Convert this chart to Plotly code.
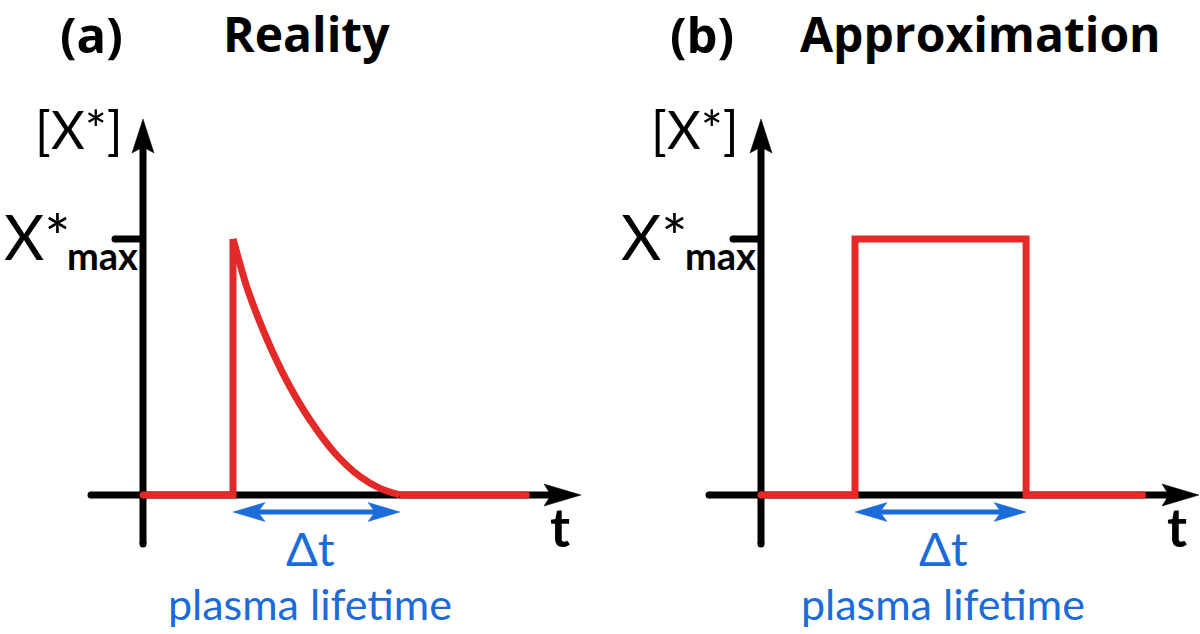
import plotly.graph_objects as go

# ---------------- data ----------------
# (a) Reality: [X*] relative to X*max vs time (arbitrary units)
t_pre_a = [0.0, 1.0, 1.0]
x_pre_a = [0.0, 0.0, 1.0]
t_decay_a = [1.0, 1.152, 1.289, 1.448, 1.633, 1.856, 2.133, 2.411, 2.633, 2.856]
x_decay_a = [1.0, 0.814, 0.684, 0.553, 0.423, 0.293, 0.163, 0.072, 0.026, 0.0]
t_post_a = [2.856, 4.26]
x_post_a = [0.0, 0.0]

# (b) Approximation: square pulse
t_b = [0.0, 1.0, 1.0, 2.82, 2.82, 4.06]
x_b = [0.0, 0.0, 1.0, 1.0, 0.0, 0.0]

xmax_level = 1.0
lifetime_a = [1.0, 2.856]
lifetime_b = [1.0, 2.82]

panel_tags = ["(a)", "(b)"]
panel_titles = ["Reality", "Approximation"]
y_label = "[X*]"
ytick_main = "X*"
ytick_sub = "max"
x_label = "t"
dt_label = "Δt"
dt_caption = "plasma lifetime"

# ---------------- style / geometry ----------------
W, H = 1200, 634
RED = "#e32a28"
BLUE = "#1b6bd9"
BLACK = "#000000"
FONT = "Lato"
TITLE_FONT = "Open Sans"

panels = [
    dict(ox=143, oy=495, sx=90.0, sy=256.0, x0=0, x1=600, xa="x", ya="y"),
    dict(ox=761, oy=495, sx=94.0, sy=256.0, x0=600, x1=1200, xa="x2", ya="y2"),
]
AX_W = 7
RED_W = 7

fig = go.Figure()


def add_line(xs, ys, color, width, p, shape="linear"):
    fig.add_trace(go.Scatter(x=xs, y=ys, mode="lines",
                             line=dict(color=color, width=width, shape=shape, smoothing=0.8),
                             xaxis=p["xa"], yaxis=p["ya"], hoverinfo="skip", showlegend=False))


def add_poly(xs, ys, color, p):
    fig.add_trace(go.Scatter(x=xs + [xs[0]], y=ys + [ys[0]], mode="lines", fill="toself",
                             fillcolor=color, line=dict(color=color, width=0.5),
                             xaxis=p["xa"], yaxis=p["ya"], hoverinfo="skip", showlegend=False))


def add_dots(xs, ys, color, size, p):
    fig.add_trace(go.Scatter(x=xs, y=ys, mode="markers",
                             marker=dict(color=color, size=size, line=dict(width=0)),
                             xaxis=p["xa"], yaxis=p["ya"], hoverinfo="skip", showlegend=False))


series = [
    [(t_pre_a, x_pre_a, "linear"), (t_decay_a, x_decay_a, "spline"), (t_post_a, x_post_a, "linear")],
    [(t_b, x_b, "linear")],
]
lifetimes = [lifetime_a, lifetime_b]

for i, p in enumerate(panels):
    sx, sy = p["sx"], p["sy"]
    # axis geometry in pixel offsets from origin
    x_left, x_tip = -52 / sx, 438 / sx
    y_bottom, y_tip = -49 / sy, 376 / sy
    # x axis
    add_line([x_left, x_tip - 25 / sx], [0, 0], BLACK, AX_W, p)
    add_poly([x_tip, x_tip - 37 / sx, x_tip - 30 / sx, x_tip - 37 / sx],
             [0, 11 / sy, 0, -11 / sy], BLACK, p)
    # y axis
    add_line([0, 0], [y_bottom, y_tip - 25 / sy], BLACK, AX_W, p)
    add_poly([0, -11 / sx, 0, 11 / sx],
             [y_tip, y_tip - 34 / sy, y_tip - 28 / sy, y_tip - 34 / sy], BLACK, p)
    # X*max tick
    add_line([-28 / sx, 0], [xmax_level, xmax_level], BLACK, AX_W, p)
    add_dots([x_left, 0, -28 / sx], [0, y_bottom, xmax_level], BLACK, AX_W, p)

    # red concentration curve
    for xs, ys, shape in series[i]:
        add_line(xs, ys, RED, RED_W, p, shape)
    first, last = series[i][0], series[i][-1]
    add_dots([first[0][0], last[0][-1]], [first[1][0], last[1][-1]], RED, RED_W, p)

    # blue lifetime double arrow
    t_on, t_off = lifetimes[i]
    yb = -17 / sy
    add_line([t_on + 20 / sx, t_off - 20 / sx], [yb, yb], BLUE, 5, p)
    add_poly([t_on, t_on + 32 / sx, t_on + 25 / sx, t_on + 32 / sx],
             [yb, yb + 9.5 / sy, yb, yb - 9.5 / sy], BLUE, p)
    add_poly([t_off, t_off - 32 / sx, t_off - 25 / sx, t_off - 32 / sx],
             [yb, yb + 9.5 / sy, yb, yb - 9.5 / sy], BLUE, p)

layout_axes = {}
for i, p in enumerate(panels):
    suffix = "" if i == 0 else "2"
    layout_axes["xaxis" + suffix] = dict(
        domain=[p["x0"] / W, p["x1"] / W],
        range=[(p["x0"] - p["ox"]) / p["sx"], (p["x1"] - p["ox"]) / p["sx"]],
        visible=False, fixedrange=True)
    layout_axes["yaxis" + suffix] = dict(
        domain=[0, 1], range=[(p["oy"] - H) / p["sy"], p["oy"] / p["sy"]],
        visible=False, fixedrange=True)


def ann(text, px, py, size, color=BLACK, weight="normal", family=FONT):
    return dict(text=text, x=px / W, y=1 - py / H, xref="paper", yref="paper",
                xanchor="center", yanchor="middle", showarrow=False,
                font=dict(family=family, size=size, color=color, weight=weight))


annotations = []
tag_x = [91, 702]
title_x = [306, 980]
ylab_x = [79, 695]
xs_x = [37, 654]
sub_x = [102, 720]
t_x = [560, 1177]
dt_x = [310, 943]
for i in range(2):
    annotations += [
        ann(panel_tags[i], tag_x[i], 34, 49, weight="bold", family=TITLE_FONT),
        ann(panel_titles[i], title_x[i], 33, 48, weight="bold", family=TITLE_FONT),
        ann(y_label, ylab_x[i], 129, 52),
        ann(ytick_main, xs_x[i], 236, 62),
        ann(ytick_sub, sub_x[i], 255, 38, weight="bold"),
        ann(x_label, t_x[i], 526, 54, weight="bold"),
        ann(dt_label, dt_x[i], 548, 47, color=BLUE),
        ann(dt_caption, dt_x[i], 603, 43, color=BLUE),
    ]

fig.update_layout(width=W, height=H, margin=dict(l=0, r=0, t=0, b=0),
                  paper_bgcolor="white", plot_bgcolor="white",
                  showlegend=False, annotations=annotations, **layout_axes)

fig.write_html("out.html", config={"displayModeBar": False},
               post_script="document.body.style.margin='0';")
